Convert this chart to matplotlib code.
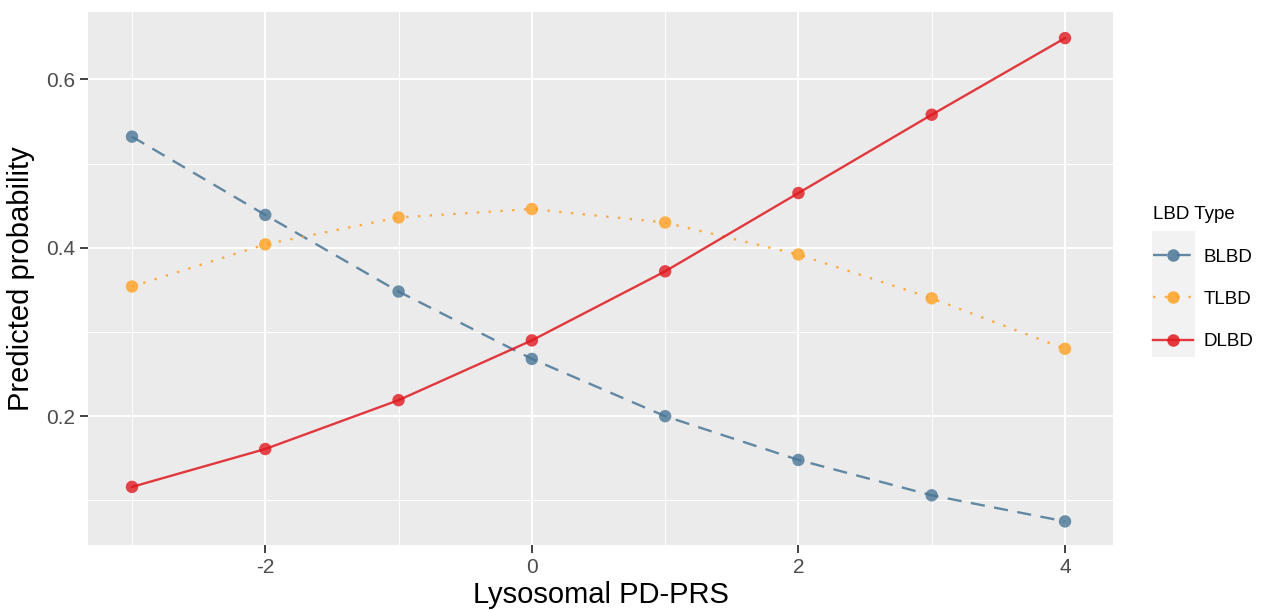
import matplotlib
matplotlib.use("Agg")
import matplotlib.pyplot as plt
from matplotlib.lines import Line2D
from matplotlib.patches import Rectangle

plt.rcParams['font.family'] = ['Liberation Sans', 'DejaVu Sans']
plt.rcParams['axes.unicode_minus'] = False

prs = [-3, -2, -1, 0, 1, 2, 3, 4]
blbd = [0.532, 0.439, 0.348, 0.268, 0.200, 0.148, 0.106, 0.075]
tlbd = [0.354, 0.404, 0.436, 0.446, 0.430, 0.392, 0.340, 0.280]
dlbd = [0.116, 0.161, 0.219, 0.290, 0.372, 0.465, 0.558, 0.649]
series_names = ["BLBD", "TLBD", "DLBD"]
x_ticks = [-2, 0, 2, 4]
y_ticks = [0.2, 0.4, 0.6]

colors = ["#4a7696", "#ffa020", "#e0191f"]
styles = [(0, (6, 4)), (0, (1, 4)), "-"]

fig = plt.figure(figsize=(12.64, 6.10), dpi=100)
ax = fig.add_axes([88/1264, 65/610, (1113-88)/1264, (545-12)/610])
ax.set_facecolor("#ebebeb")
for s in ax.spines.values():
    s.set_visible(False)

ax.set_xlim(-3.33, 4.36)
ax.set_ylim(0.047, 0.680)
ax.set_xticks(x_ticks)
ax.set_yticks(y_ticks)
ax.set_xticks([-3, -1, 1, 3], minor=True)
ax.set_yticks([0.1, 0.3, 0.5], minor=True)
ax.grid(True, which="major", color="white", linewidth=1.4)
ax.grid(True, which="minor", color="white", linewidth=0.7)
ax.set_axisbelow(True)
ax.tick_params(which="major", length=5.5, width=1.3, color="#333333",
               labelsize=15, labelcolor="#4d4d4d", pad=4)
ax.tick_params(which="minor", length=0)

handles = []
for vals, name, c, ls in zip([blbd, tlbd, dlbd], series_names, colors, styles):
    ax.plot(prs, vals, color=c, linestyle=ls, linewidth=1.7, alpha=0.85, zorder=2)
    ax.scatter(prs, vals, s=80, color=c, alpha=0.8, zorder=3, edgecolors="none")
    handles.append(Line2D([], [], color=c, linestyle=ls, linewidth=1.7, alpha=0.85,
                          marker="o", markersize=9, markeredgewidth=0, label=name))

ax.set_xlabel("Lysosomal PD-PRS", fontsize=21, labelpad=3)
ax.set_ylabel("Predicted probability", fontsize=21, labelpad=8)

leg = fig.legend(handles=handles, title="LBD Type", loc="upper left",
                 bbox_to_anchor=(1140/1264, 1 - 193/610), frameon=False,
                 fontsize=13.5, title_fontsize=13.5, handlelength=2.1,
                 labelspacing=1.35, handletextpad=0.6, borderpad=0.2)
leg._legend_box.align = "left"

fig.patches.append(Rectangle((1152/1264, 1 - 357/610), 43/1264, 126/610,
                             transform=fig.transFigure, facecolor="#f2f2f2",
                             edgecolor="none", zorder=0))

fig.savefig("out.png", dpi=100)
